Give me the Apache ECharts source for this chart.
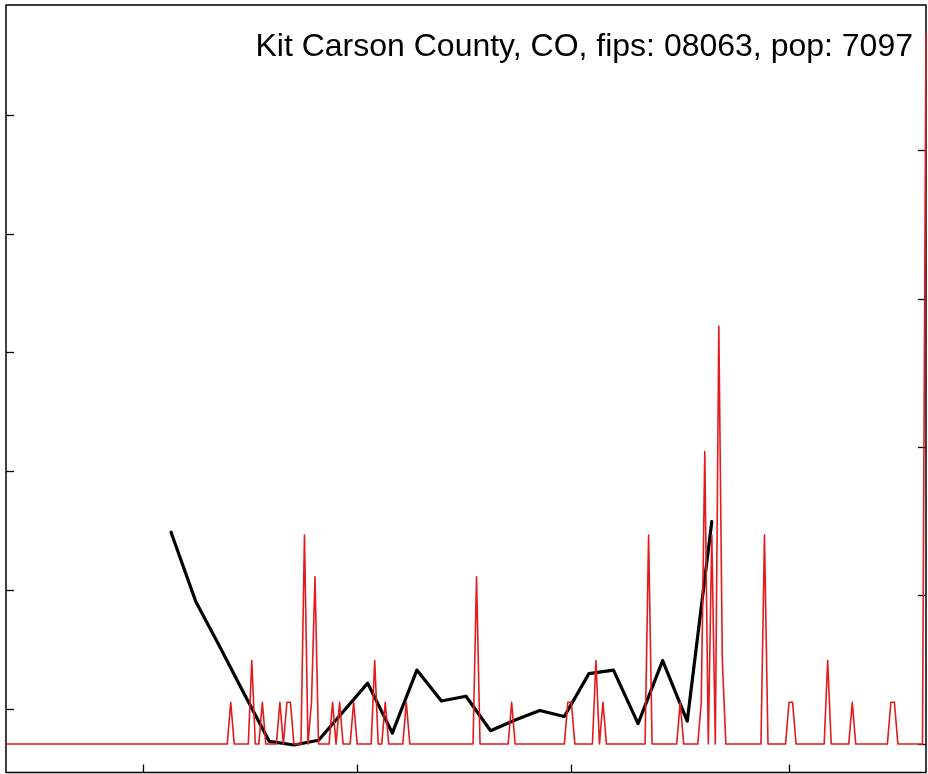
<!DOCTYPE html>
<html>
<head>
<meta charset="utf-8">
<script src="https://cdn.jsdelivr.net/npm/echarts@6/dist/echarts.min.js"></script>
<style>
html,body{margin:0;padding:0;background:#fff;}
#chart{width:928px;height:774px;}
</style>
</head>
<body>
<div id="chart"></div>
<script>
// ---- data ----
const titleText = 'Kit Carson County, CO, fips: 08063, pop: 7097';
const population = 7097;
const firstDay = '2020-01-22';
const dayCount = 263;

// daily new cases (days not listed = 0)
const caseDates = ['2020-03-26','2020-04-01','2020-04-04','2020-04-09','2020-04-11','2020-04-12',
  '2020-04-16','2020-04-18','2020-04-19','2020-04-24','2020-04-26','2020-04-30','2020-05-06',
  '2020-05-09','2020-05-15','2020-06-04','2020-06-14','2020-06-30','2020-07-01','2020-07-08',
  '2020-07-10','2020-07-23','2020-08-01','2020-08-07','2020-08-08','2020-08-10','2020-08-12',
  '2020-08-13','2020-08-25','2020-09-01','2020-09-02','2020-09-12','2020-09-19','2020-09-30',
  '2020-10-01','2020-10-10'];
const caseCounts = [1,2,1,1,1,1,
  5,1,4,1,1,1,2,
  1,1,4,1,1,1,2,
  1,5,1,1,7,5,10,
  2,5,1,1,2,1,1,
  1,17];

// weekly black series (left axis)
const weekDates = ['2020-03-09','2020-03-16','2020-03-23','2020-03-30','2020-04-06','2020-04-13',
  '2020-04-20','2020-04-27','2020-05-04','2020-05-11','2020-05-18','2020-05-25','2020-06-01',
  '2020-06-08','2020-06-15','2020-06-22','2020-06-29','2020-07-06','2020-07-13','2020-07-20',
  '2020-07-27','2020-08-03','2020-08-10'];
const weekValues = [2.49,1.91,1.52,1.12,0.73,0.70,
  0.74,0.98,1.22,0.80,1.33,1.07,1.11,
  0.82,0.91,0.99,0.94,1.30,1.33,0.88,
  1.41,0.90,2.58];

const xTickDates = ['2020-03-01','2020-05-01','2020-07-01','2020-09-01'];
const leftTicks = [1,2,3,4,5,6];
const rightTicks = [0,50,100,150,200];

// ---- build ----
const dates = [];
const t0 = Date.parse(firstDay + 'T00:00:00Z');
for (let i = 0; i < dayCount; i++) {
  dates.push(new Date(t0 + i * 86400000).toISOString().slice(0, 10));
}
const caseMap = {};
caseDates.forEach((d, i) => { caseMap[d] = caseCounts[i]; });
const rateData = dates.map(d => (caseMap[d] || 0) * 100000 / population);
const rMax = Math.max.apply(null, rateData);
const blackData = weekDates.map((d, i) => [d, weekValues[i]]);

const tickStyle = { show: true, inside: true, length: 8, lineStyle: { color: '#000', width: 1.3 } };

const chart = echarts.init(document.getElementById('chart'), null, { renderer: 'canvas' });
chart.setOption({
  animation: false,
  backgroundColor: '#fff',
  title: {
    text: titleText,
    right: 10,
    top: 26,
    textStyle: { fontFamily: 'Liberation Sans, Arial, sans-serif', fontSize: 32, fontWeight: 'normal', color: '#000' }
  },
  grid: {
    left: 6, right: 2, top: 5, bottom: 1.5,
    show: true, borderColor: '#000', borderWidth: 1.5, backgroundColor: 'transparent'
  },
  xAxis: {
    type: 'category',
    data: dates,
    boundaryGap: false,
    position: 'bottom',
    axisLine: { show: false, onZero: false },
    axisLabel: { show: false },
    splitLine: { show: false },
    axisTick: Object.assign({}, tickStyle, {
      interval: function (idx, val) { return xTickDates.indexOf(val) >= 0; }
    })
  },
  yAxis: [
    {
      type: 'value',
      position: 'left',
      min: 0.4683,
      max: 6.9254,
      axisLine: { show: false },
      axisLabel: { show: false },
      splitLine: { show: false },
      axisTick: Object.assign({}, tickStyle, { customValues: leftTicks })
    },
    {
      type: 'value',
      position: 'right',
      min: -0.04 * rMax,
      max: 1.04 * rMax,
      axisLine: { show: false },
      axisLabel: { show: false },
      splitLine: { show: false },
      axisTick: Object.assign({}, tickStyle, { customValues: rightTicks })
    }
  ],
  series: [
    {
      name: 'weekly',
      type: 'line',
      yAxisIndex: 0,
      data: blackData,
      showSymbol: false,
      symbol: 'none',
      z: 2,
      lineStyle: { color: '#000', width: 3.2, join: 'round', cap: 'round' }
    },
    {
      name: 'daily cases per 100k',
      type: 'line',
      yAxisIndex: 1,
      data: rateData,
      showSymbol: false,
      symbol: 'none',
      z: 3,
      lineStyle: { color: '#e41a1c', width: 1.6, join: 'round' }
    }
  ]
});
</script>
</body>
</html>
